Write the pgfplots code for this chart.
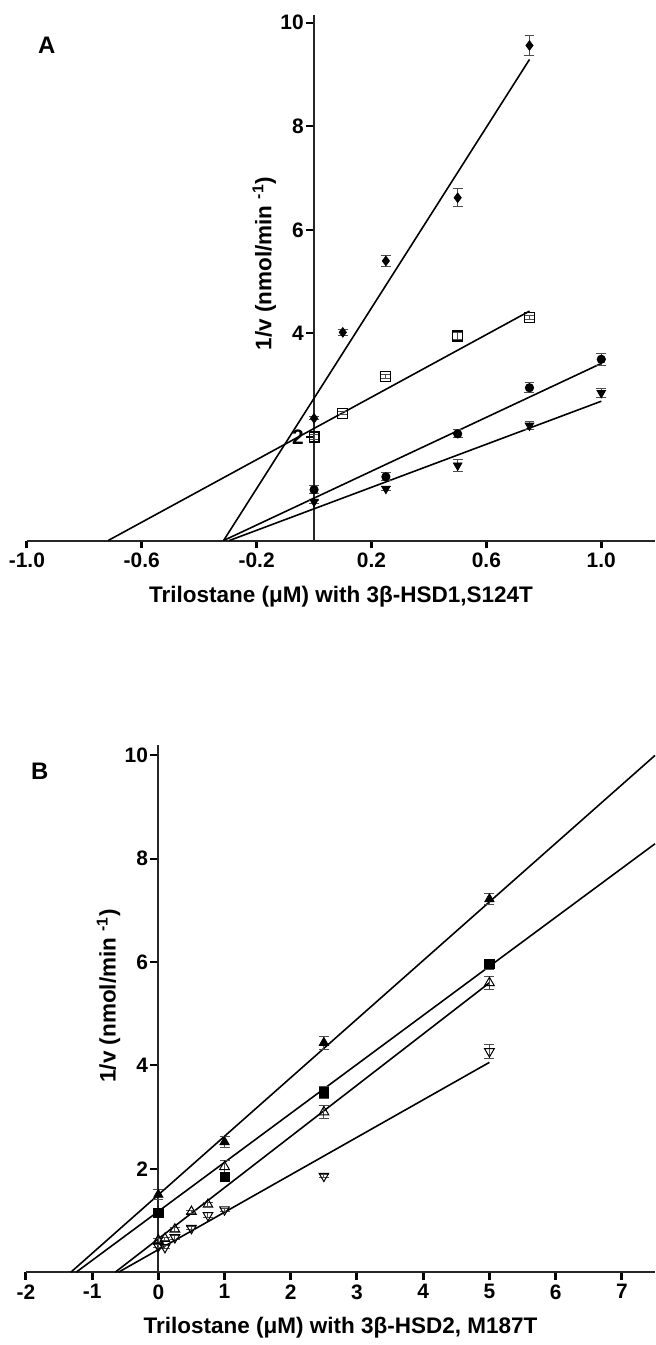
\documentclass[border=0pt]{standalone}
\usepackage{fontspec}
\setmainfont{Liberation Sans}
\usepackage{pgfplots}
\pgfplotsset{compat=1.18}

% shared look of both panels (1 px of the reference = 0.5pt)
\pgfplotsset{
  kin/.style={
    scale only axis,
    anchor=south west,
    axis x line=bottom,
    axis y line=middle,
    axis line style={-, line width=1pt, black!85},
    x tick style={line width=1.5pt, black},
    xtick align=outside,
    ytick align=outside,
    xtick pos=bottom,
    major tick length=4pt,
    y tick style={line width=1pt, black},
    tick label style={font=\bfseries\fontsize{10.5}{11}\selectfont},
    yticklabel style={inner sep=1pt},
    xticklabel style={inner sep=2pt},
    every axis x label/.style={at={(axis description cs:0.5,0)}, anchor=center, yshift=-28pt},
    every axis y label/.style={at={(axis cs:0,5.35)}, xshift=-25pt, rotate=90, anchor=center},
    label style={font=\bfseries\fontsize{11.3}{12}\selectfont},
    ytick={2,4,6,8,10}, yticklabels={2,4,6,8,10},
    ylabel={1/v (nmol/min \textsuperscript{-1})},
    clip=false,
    error bars/y dir=both, error bars/y explicit,
    error bars/error bar style={line width=0.5pt, black!70},
    error bars/error mark options={rotate=90, mark size=2.5pt, line width=0.5pt, black!70},
  },
  fit/.style={no marks, line width=0.8pt, black},
  pts/.style={only marks, black},
}

\begin{document}
\begin{tikzpicture}
\path (0pt,0pt) rectangle (329pt,-672.5pt);
\node[font=\bfseries\fontsize{12}{12}\selectfont] at (23.5pt,-22.5pt) {A};
\node[font=\bfseries\fontsize{12}{12}\selectfont] at (20pt,-387.5pt) {B};

% ---- panel A
\begin{axis}[kin, at={(13.5pt,-271.5pt)},
  width=315.5pt, height=264pt,
  xmin=-1, xmax=1.187, ymin=0, ymax=10.15,
  xtick={-1,-0.6,-0.2,0.2,0.6,1},
  xticklabels={-1.0,-0.6,-0.2,0.2,0.6,1.0},
  xlabel={Trilostane (μM) with 3β-HSD1,S124T}]
\addplot[fit] coordinates {(-0.315,0) (0.75,9.29)};
\addplot[fit] coordinates {(-0.717,0) (0.75,4.43)};
\addplot[fit] coordinates {(-0.315,0) (1.0,3.42)};
\addplot[fit] coordinates {(-0.295,0) (1.0,2.69)};
\addplot[pts, mark=diamond*, mark size=2.4pt] coordinates {
  (0,2.36) +- (0,0.03) (0.1,4.02) +- (0,0.06) (0.25,5.40) +- (0,0.11)
  (0.5,6.62) +- (0,0.17) (0.75,9.56) +- (0,0.2)};
\addplot[pts, mark=square, mark size=2.5pt, mark options={fill=white, line width=0.6pt}] coordinates {
  (0,2.0) +- (0,0.05) (0.1,2.46) +- (0,0.03) (0.25,3.17) +- (0,0.04)
  (0.5,3.95) +- (0,0.06) (0.75,4.30) +- (0,0.04)};
\addplot[pts, mark=*, mark size=2.1pt] coordinates {
  (0,0.98) +- (0,0.08) (0.25,1.23) +- (0,0.08) (0.5,2.06) +- (0,0.08)
  (0.75,2.95) +- (0,0.1) (1.0,3.50) +- (0,0.12)};
\addplot[pts, mark=triangle*, mark size=2.5pt, mark options={rotate=180}] coordinates {
  (0,0.75) +- (0,0.03) (0.25,1.0) +- (0,0.04) (0.5,1.45) +- (0,0.12)
  (0.75,2.22) +- (0,0.08) (1.0,2.85) +- (0,0.08)};
\end{axis}

% ---- panel B
\begin{axis}[kin, at={(13pt,-639pt)},
  width=316pt, height=265pt,
  xmin=-2, xmax=7.5, ymin=0, ymax=10.21,
  xtick={-2,-1,0,1,2,3,4,5,6,7},
  xticklabels={-2,-1,0,1,2,3,4,5,6,7},
  xlabel={Trilostane (μM) with 3β-HSD2, M187T}]
\addplot[fit] coordinates {(-1.32,0) (7.5,10.0)};
\addplot[fit] coordinates {(-1.24,0) (7.5,8.29)};
\addplot[fit] coordinates {(-0.65,0) (5,5.6)};
\addplot[fit] coordinates {(-0.60,0) (5,4.06)};
\addplot[pts, mark=triangle*, mark size=2.7pt] coordinates {
  (0,1.50) +- (0,0.1) (1,2.52) +- (0,0.1) (2.5,4.44) +- (0,0.13) (5,7.22) +- (0,0.1)};
\addplot[pts, mark=square*, mark size=2.3pt] coordinates {
  (0,1.15) +- (0,0.05) (1,1.85) +- (0,0.06) (2.5,3.48) +- (0,0.12) (5,5.96) +- (0,0.1)};
\addplot[pts, mark=triangle, mark size=2.8pt, mark options={fill=white, line width=0.5pt}] coordinates {
  (0,0.62) +- (0,0.04) (0.1,0.65) +- (0,0.03) (0.25,0.83) +- (0,0.04)
  (0.5,1.17) +- (0,0.03) (0.75,1.31) +- (0,0.04) (1,2.04) +- (0,0.12)
  (2.5,3.10) +- (0,0.12) (5,5.60) +- (0,0.13)};
\addplot[pts, mark=triangle, mark size=2.8pt, mark options={fill=white, line width=0.5pt, rotate=180}] coordinates {
  (0,0.50) +- (0,0.03) (0.1,0.48) +- (0,0.03) (0.25,0.67) +- (0,0.04)
  (0.5,0.85) +- (0,0.03) (0.75,1.10) +- (0,0.05) (1,1.21) +- (0,0.03)
  (2.5,1.86) +- (0,0.03) (5,4.27) +- (0,0.14)};
\end{axis}
\end{tikzpicture}
\end{document}
